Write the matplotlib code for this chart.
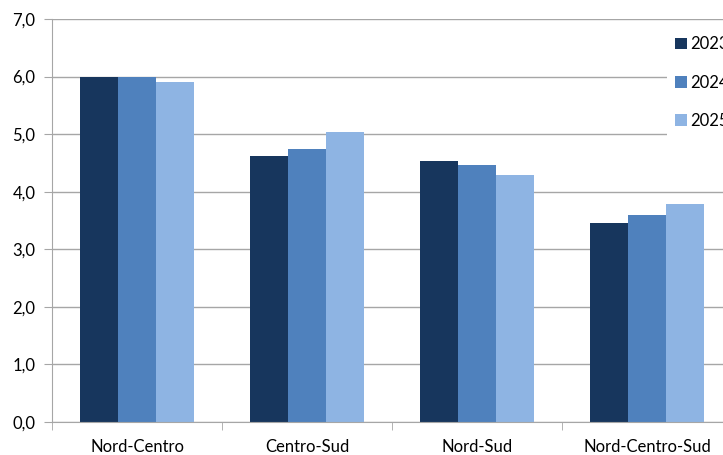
import matplotlib.pyplot as plt
import numpy as np

categorie = ['Nord-Centro', 'Centro-Sud', 'Nord-Sud', 'Nord-Centro-Sud']
anni = ['2023', '2024', '2025']
v2023 = [6.0, 4.62, 4.54, 3.45]
v2024 = [6.0, 4.75, 4.47, 3.59]
v2025 = [5.9, 5.03, 4.29, 3.79]
colori = ['#17365D', '#4F81BD', '#8EB4E3']

plt.rcParams['font.family'] = ['Lato', 'DejaVu Sans']

fig = plt.figure(figsize=(7.23, 4.55), dpi=100)
ax = fig.add_axes([52 / 723, 1 - 422 / 455, 680 / 723, 403 / 455])

x = np.arange(len(categorie))
w = 1 / 4.5
for i, (vals, col) in enumerate(zip([v2023, v2024, v2025], colori)):
    ax.bar(x + (i - 1) * w, vals, width=w, color=col, label=anni[i], zorder=3)

ax.set_xlim(-0.5, len(categorie) - 0.5)
ax.set_ylim(0, 7)
ax.set_yticks(np.arange(0, 7.1, 1))
ax.set_yticklabels([f'{v:.1f}'.replace('.', ',') for v in np.arange(0, 7.1, 1)], fontsize=12)
ax.set_xticks(x)
ax.set_xticklabels(categorie, fontsize=12)
ax.set_xticks(np.arange(-0.5, len(categorie)), minor=True)
ax.tick_params(axis='x', which='major', length=0, pad=12)
ax.tick_params(axis='x', which='minor', length=6, color='#A6A6A6')
ax.tick_params(axis='y', length=6, color='#A6A6A6', pad=6)
ax.grid(axis='y', color='#A6A6A6', linewidth=1, zorder=0)
for s in ['top', 'right']:
    ax.spines[s].set_visible(False)
for s in ['left', 'bottom']:
    ax.spines[s].set_color('#A6A6A6')
    ax.spines[s].set_zorder(4)

leg = fig.legend(loc='upper left', bbox_to_anchor=(667 / 723, 1 - 28 / 455),
                 fontsize=12, frameon=True, fancybox=False, handlelength=0.7,
                 handleheight=0.7, handletextpad=0.2, labelspacing=1.33,
                 borderpad=0.5, borderaxespad=0)
leg.get_frame().set_facecolor('white')
leg.get_frame().set_edgecolor('none')
leg.get_frame().set_alpha(1)

fig.savefig('out.png', dpi=100)
